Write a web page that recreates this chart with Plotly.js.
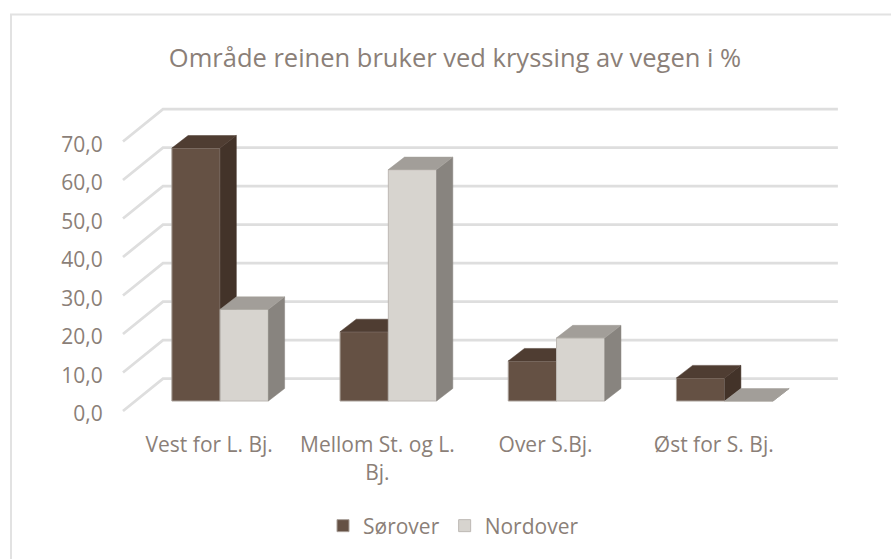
<!DOCTYPE html>
<html><head><meta charset="utf-8">
<script src="https://cdn.plot.ly/plotly-3.0.1.min.js"></script>
<style>html,body{margin:0;padding:0;background:#fff}#c{width:891px;height:559px}</style>
</head><body><div id="c"></div>
<script>
const categories = ['Vest for L. Bj.', 'Mellom St. og L.<br>Bj.', 'Over S.Bj.', 'Øst for S. Bj.'];
const soerover = [65.7, 18.0, 10.4, 6.0];
const nordover = [23.8, 60.1, 16.4, 0.0];
const gridValues = [0, 10, 20, 30, 40, 50, 60, 70];
const tickLabels = ['0,0', '10,0', '20,0', '30,0', '40,0', '50,0', '60,0', '70,0'];

// fake-3D projection, in axis units
const barW = 0.287, depthX = 0.0963, depthY = 3.25;
const wallFront = -2.6, wallBack = 5.8, wallLeft = -0.5776, wallDepth = 0.2378, wallRight = 3.673;
const labelShift = -3.3, catShift = -0.065;
const xRange = [-0.6549, 3.745], yRange = [-4.935, 78.18];

const col = {
  s: {front: '#655144', top: '#4f3d32', side: '#433329', edge: '#a89f98'},
  n: {front: '#d7d4cf', top: '#a29e99', side: '#88847f', edge: '#bdb9b4'}
};

function polys(vals, x0off, getPts) {
  const xs = [], ys = [];
  vals.forEach((v, i) => {
    getPts(i + x0off, v).forEach(p => { xs.push(p[0]); ys.push(p[1]); });
    xs.push(null); ys.push(null);
  });
  return {x: xs, y: ys};
}
function faces(vals, x0off, c, xa, ya) {
  const side = polys(vals, x0off, (x, v) => [[x + barW, 0], [x + barW + depthX, depthY], [x + barW + depthX, v + depthY], [x + barW, v], [x + barW, 0]]);
  const top = polys(vals, x0off, (x, v) => [[x, v], [x + depthX, v + depthY], [x + barW + depthX, v + depthY], [x + barW, v], [x, v]]);
  const mk = (d, color) => ({type: 'scatter', mode: 'lines', x: d.x, y: d.y, fill: 'toself', fillcolor: color,
    line: {color: color, width: 0.5}, xaxis: xa, yaxis: ya, showlegend: false, hoverinfo: 'skip'});
  return [mk(side, c.side), mk(top, c.top)];
}
function bar(name, vals, offset, c, xa, ya) {
  return {type: 'bar', name: name, x: vals.map((_, i) => i), y: vals, width: barW, offset: offset,
    marker: {color: c.front, line: {color: c.edge, width: 1}}, xaxis: xa, yaxis: ya};
}

const gridX = [], gridY = [];
gridValues.forEach(v => {
  gridX.push(wallLeft, wallLeft + wallDepth, wallRight, null);
  gridY.push(v + wallFront, v + wallBack, v + wallBack, null);
});
const gridTrace = {type: 'scatter', mode: 'lines', x: gridX, y: gridY, xaxis: 'x', yaxis: 'y',
  line: {color: '#dedede', width: 2.8}, showlegend: false, hoverinfo: 'skip'};

const traces = [
  gridTrace,
  bar('Sørover', soerover, -barW, col.s, 'x2', 'y2'),
  ...faces(soerover, -barW, col.s, 'x2', 'y2'),
  bar('Nordover', nordover, 0, col.n, 'x3', 'y3'),
  ...faces(nordover, 0, col.n, 'x3', 'y3')
];

const hidden = {range: xRange, visible: false, fixedrange: true};
const font = 'Open Sans, Noto Sans, sans-serif', text = '#8b7f78';
const layout = {
  width: 891, height: 559,
  margin: {l: 110, r: 41, t: 100, b: 139},
  paper_bgcolor: '#fff', plot_bgcolor: 'rgba(0,0,0,0)',
  title: {text: 'Område reinen bruker ved kryssing av vegen i %', font: {family: font, size: 25.5, color: text},
    x: 455 / 891, xanchor: 'center', y: 1 - 58 / 559, yanchor: 'middle'},
  font: {family: font, color: text},
  xaxis: {range: xRange, tickmode: 'array', tickvals: categories.map((_, i) => i + catShift), ticktext: categories,
    showgrid: false, zeroline: false, showline: false, ticks: 'outside', ticklen: 6, tickcolor: 'rgba(0,0,0,0)',
    tickangle: 0, tickfont: {size: 21, color: text}, fixedrange: true},
  yaxis: {range: yRange, tickmode: 'array', tickvals: gridValues.map(v => v + labelShift), ticktext: tickLabels,
    showgrid: false, zeroline: false, showline: false, ticks: 'outside', ticklen: 2, tickcolor: 'rgba(0,0,0,0)',
    tickfont: {size: 21, color: text}, fixedrange: true},
  xaxis2: Object.assign({overlaying: 'x'}, hidden),
  yaxis2: {overlaying: 'y', range: yRange, visible: false, fixedrange: true},
  xaxis3: Object.assign({overlaying: 'x'}, hidden),
  yaxis3: {overlaying: 'y', range: yRange, visible: false, fixedrange: true},
  barmode: 'overlay',
  showlegend: true,
  legend: {orientation: 'h', x: (323 - 110) / 740, xanchor: 'left', y: (420 - 526) / 320, yanchor: 'middle',
    font: {size: 21, color: text}, bgcolor: 'rgba(0,0,0,0)', itemwidth: 30},
  shapes: [
    {type: 'line', xref: 'paper', yref: 'paper', layer: 'below',
      x0: (10 - 110) / 740, x1: (891 - 110) / 740, y0: (420 - 14.5) / 320, y1: (420 - 14.5) / 320,
      line: {color: '#e2e2e2', width: 2}},
    {type: 'line', xref: 'paper', yref: 'paper', layer: 'below',
      x0: (11 - 110) / 740, x1: (11 - 110) / 740, y0: (420 - 559) / 320, y1: (420 - 14) / 320,
      line: {color: '#e2e2e2', width: 2}}
  ]
};
Plotly.newPlot('c', traces, layout, {displayModeBar: false, staticPlot: true});
</script></body></html>
